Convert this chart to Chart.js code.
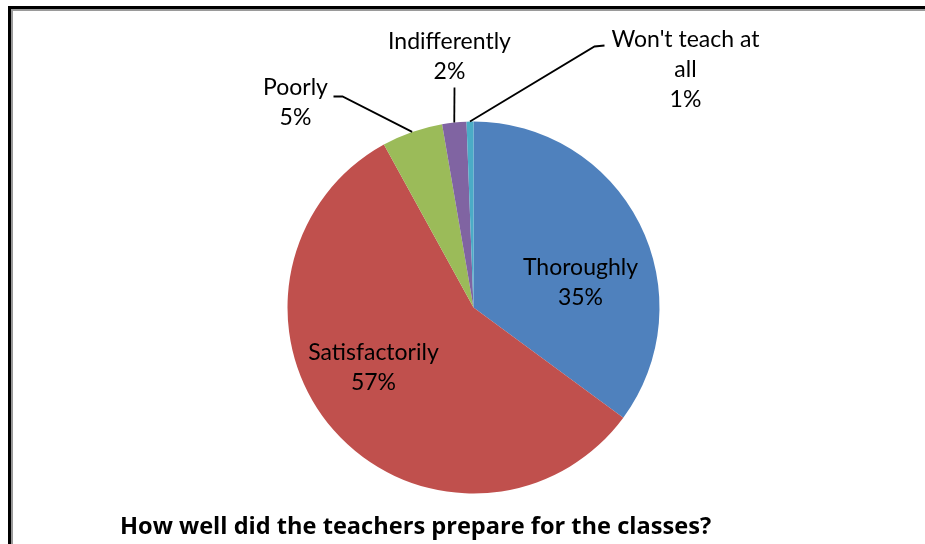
<!DOCTYPE html>
<html>
<head>
<meta charset="utf-8">
<script src="https://cdn.jsdelivr.net/npm/chart.js@4/dist/chart.umd.min.js"></script>
<style>
  html, body { margin: 0; padding: 0; background: #fff; }
  canvas { display: block; }
</style>
</head>
<body>
<canvas id="pieChart" width="925" height="544"></canvas>
<script>
// answers, clockwise from 12 o'clock
const categories = ['Thoroughly', 'Satisfactorily', 'Poorly', 'Indifferently', "Won't teach at all"];
const shares = [35.1, 56.9, 5.3, 2.1, 0.6];
const sliceColors = ['#4F81BD', '#C0504D', '#9BBB59', '#8064A2', '#4BACC6'];
const chartTitle = 'How well did the teachers prepare for the classes?';

// where each data label sits, relative to the pie centre (label layout only)
const labelLayout = [
  { dx: 107, dy: -25 },
  { dx: -100, dy: 60 },
  { dx: -178, dy: -205, leader: [[-140, -211], [-131, -211]] },
  { dx: -24, dy: -251, leader: [[-19, -220]] },
  { dx: 212, dy: -238, leader: [[131, -262], [121, -261]] }
];

const labelFont = '23px Lato';
const lineHeight = 30;
const wrapWidth = 160;

function wrapText(ctx, text, maxW) {
  const words = text.split(' ');
  const lines = [];
  let cur = '';
  words.forEach(w => {
    const test = cur ? cur + ' ' + w : w;
    if (ctx.measureText(test).width > maxW && cur) {
      lines.push(cur);
      cur = w;
    } else {
      cur = test;
    }
  });
  if (cur) lines.push(cur);
  return lines;
}

const frameAndLabels = {
  id: 'frameAndLabels',
  beforeDraw(chart) {
    const ctx = chart.ctx;
    ctx.save();
    ctx.fillStyle = '#fff';
    ctx.fillRect(0, 0, chart.width, chart.height);
    // picture frame
    ctx.fillStyle = '#000';
    ctx.fillRect(8, 6, chart.width - 8, 3);
    ctx.fillRect(8, 6, 3, chart.height - 6);
    ctx.fillStyle = '#9a9a9a';
    ctx.fillRect(11, 9, chart.width - 11, 2);
    ctx.fillRect(11, 9, 2, chart.height - 9);
    ctx.restore();
  },
  afterDatasetsDraw(chart) {
    const ctx = chart.ctx;
    const meta = chart.getDatasetMeta(0);
    const data = chart.data.datasets[0].data;
    const total = data.reduce((a, b) => a + b, 0);
    ctx.save();
    ctx.font = labelFont;
    ctx.fillStyle = '#000';
    ctx.strokeStyle = '#000';
    ctx.lineWidth = 1.8;
    ctx.textAlign = 'center';
    ctx.textBaseline = 'middle';
    meta.data.forEach((arc, i) => {
      const p = arc.getProps(['x', 'y', 'startAngle', 'endAngle', 'outerRadius'], true);
      const lay = labelLayout[i];
      const lines = wrapText(ctx, chart.data.labels[i], wrapWidth);
      lines.push(Math.round(data[i] / total * 100) + '%');
      const cy = p.y + lay.dy;
      const top = cy - (lines.length - 1) * lineHeight / 2;
      lines.forEach((ln, k) => ctx.fillText(ln, p.x + lay.dx, top + k * lineHeight));

      if (lay.leader) {
        const mid = (p.startAngle + p.endAngle) / 2;
        ctx.beginPath();
        lay.leader.forEach((pt, k) => {
          if (k === 0) ctx.moveTo(p.x + pt[0], p.y + pt[1]);
          else ctx.lineTo(p.x + pt[0], p.y + pt[1]);
        });
        ctx.lineTo(p.x + Math.cos(mid) * p.outerRadius, p.y + Math.sin(mid) * p.outerRadius);
        ctx.stroke();
      }
    });

    ctx.font = 'bold 23.6px "Open Sans"';
    ctx.textAlign = 'left';
    ctx.textBaseline = 'alphabetic';
    ctx.fillText(chartTitle, 120, 534);
    ctx.restore();
  }
};

new Chart(document.getElementById('pieChart'), {
  type: 'pie',
  data: {
    labels: categories,
    datasets: [{
      data: shares,
      backgroundColor: sliceColors,
      borderWidth: 0
    }]
  },
  options: {
    responsive: false,
    animation: false,
    layout: {
      padding: { left: 287.5, right: 265.5, top: 121.5, bottom: 50.5 }
    },
    plugins: {
      legend: { display: false },
      tooltip: { enabled: false },
      title: { display: false }
    }
  },
  plugins: [frameAndLabels]
});
</script>
</body>
</html>
